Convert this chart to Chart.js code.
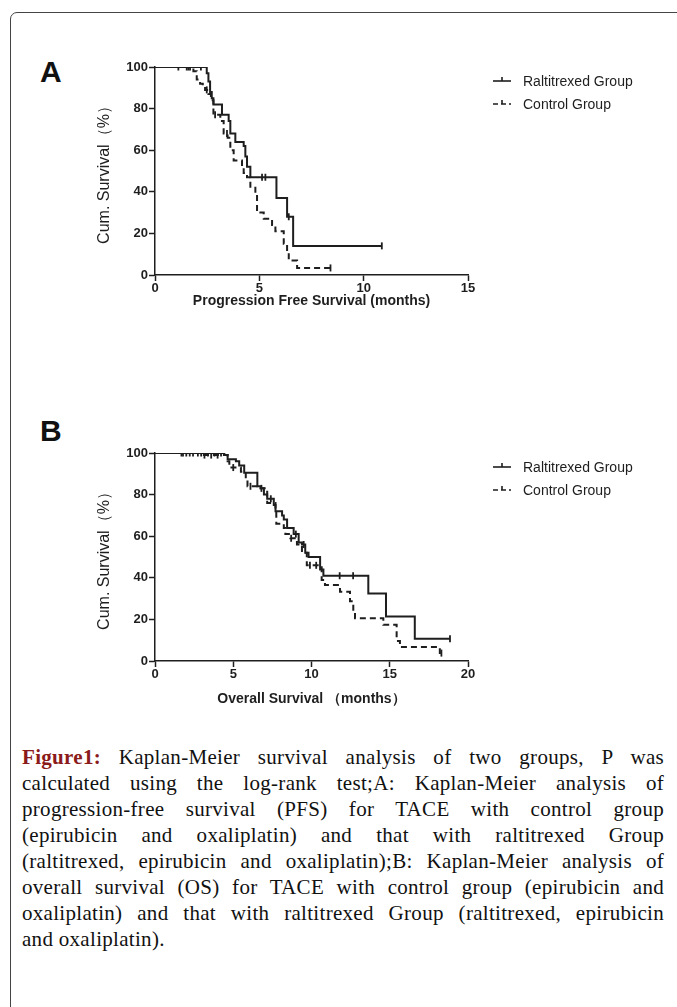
<!DOCTYPE html>
<html lang="en">
<head>
  <meta charset="UTF-8" />
  <title>Kaplan-Meier survival</title>
  <script src="https://cdn.jsdelivr.net/npm/chart.js"></script>
  <style>
    body {
      margin: 0;
      width: 677px;
      height: 1007px;
      position: relative;
      overflow: hidden;
      background: #ffffff;
      font-family: 'Liberation Sans', Arial, sans-serif;
    }

    .frame {
      position: absolute;
      left: 10px;
      top: 12px;
      width: 720px;
      height: 1100px;
      border: 1px solid #444;
      border-top-left-radius: 7px;
    }

    .panel-letter {
      position: absolute;
      left: 40px;
      font-weight: bold;
      font-size: 30px;
      line-height: 30px;
      color: #111;
    }

    canvas {
      position: absolute;
      left: 40px;
    }

    .caption {
      position: absolute;
      left: 22px;
      top: 744px;
      width: 642px;
      font-family: 'Liberation Serif', 'Times New Roman', serif;
      font-size: 21px;
      letter-spacing: 0.3px;
      line-height: 26px;
      color: #111;
    }

    .caption div {
      text-align: justify;
      text-align-last: justify;
      white-space: nowrap;
    }

    .caption div.last {
      text-align-last: left;
    }

    .caption b {
      color: #8b1a1a;
    }
  </style>
</head>
<body>
  <div class="frame"></div>

  <div class="panel-letter" style="top:57px">A</div>
  <canvas id="pfsChart" width="637" height="290" style="top:47px"></canvas>

  <div class="panel-letter" style="top:416px">B</div>
  <canvas id="osChart" width="637" height="290" style="top:433px"></canvas>

  <div class="caption">
    <div><b>Figure1:</b> Kaplan-Meier survival analysis of two groups, P was</div>
    <div>calculated using the log-rank test;A: Kaplan-Meier analysis of</div>
    <div>progression-free survival (PFS) for TACE with control group</div>
    <div>(epirubicin and oxaliplatin) and that with raltitrexed Group</div>
    <div>(raltitrexed, epirubicin and oxaliplatin);B: Kaplan-Meier analysis of</div>
    <div>overall survival (OS) for TACE with control group (epirubicin and</div>
    <div>oxaliplatin) and that with raltitrexed Group (raltitrexed, epirubicin</div>
    <div class="last">and oxaliplatin).</div>
  </div>

  <script>
    // A: progression free survival (months, %)
    const pfsRaltTimes = [0, 2.48, 2.56, 2.64, 2.72, 2.80, 3.21, 3.53, 3.61, 3.85, 4.25, 4.33, 4.41, 4.57, 5.82, 6.33, 6.62, 10.87];
    const pfsRaltSurv  = [100, 97, 93, 88, 85, 82, 77, 74, 68, 64, 62, 57, 52, 47, 37, 28, 14, 14];
    const pfsRaltCensored = [1.12, 1.52, 1.68, 2.2, 5.13, 5.29, 6.41, 10.87];

    const pfsCtrlTimes = [0, 1.84, 2.0, 2.16, 2.29, 2.40, 2.56, 2.68, 2.80, 3.13, 3.29, 3.48, 3.61, 3.77, 4.17, 4.25, 4.41, 4.57, 4.81, 4.89, 5.21, 5.61, 5.77, 6.17, 6.33, 6.41, 6.81, 8.41];
    const pfsCtrlSurv  = [100, 98, 94, 92, 91, 89, 87, 84, 77, 74, 68, 66, 60, 55, 52, 49, 47, 42, 38, 30, 27, 24, 21, 15, 11, 7, 3.4, 3.4];
    const pfsCtrlCensored = [1.6, 2.48, 2.88, 3.45, 8.41];

    // B: overall survival (months, %)
    const osRaltTimes = [0, 4.43, 4.64, 5.17, 5.38, 5.70, 6.54, 6.75, 6.96, 7.17, 7.59, 7.70, 8.12, 8.23, 8.44, 8.86, 9.18, 9.39, 9.60, 9.81, 10.55, 10.76, 13.63, 14.76, 16.60, 18.85];
    const osRaltSurv  = [100, 99, 97, 96, 94, 90.5, 84, 83, 80, 78, 75, 72, 70, 68, 64, 61, 57, 56, 52, 50, 44, 41, 32.5, 21.4, 10.7, 10.7];
    const osRaltCensored = [1.69, 2.0, 2.43, 2.95, 3.38, 3.8, 4.22, 6.8, 7.4, 9.0, 9.5, 11.8, 12.66, 18.85];

    const osCtrlTimes = [0, 3.0, 4.64, 4.75, 5.49, 5.80, 5.91, 6.65, 7.17, 7.70, 7.75, 8.23, 8.33, 8.65, 9.07, 9.39, 9.70, 10.65, 10.86, 11.82, 12.46, 12.67, 12.78, 14.59, 15.44, 15.65, 18.2, 18.3];
    const osCtrlSurv  = [100, 99, 96, 93, 91, 87, 84, 83, 76, 72, 66, 64, 61, 59, 56, 52, 46, 39, 36.5, 33.3, 28.7, 24, 20.6, 17.4, 9.6, 6.7, 3.8, 3.8];
    const osCtrlCensored = [1.79, 2.22, 2.74, 3.16, 3.59, 4.0, 5.0, 6.1, 8.7, 9.9, 10.3, 18.3];

    const yTicks = [0, 20, 40, 60, 80, 100];
    const groupNames = ['Raltitrexed Group', 'Control Group'];

    const ink = '#1e1e1e';

    function toPoints(times, surv) {
      return times.map((t, i) => ({ x: t, y: surv[i] }));
    }

    // survival value of a step curve at time t
    function survAt(times, surv, t) {
      let v = surv[0];
      for (let i = 0; i < times.length; i++) {
        if (times[i] <= t) v = surv[i];
      }
      return v;
    }

    function censorPoints(times, surv, cens) {
      return cens.map(t => ({ x: t, y: survAt(times, surv, t) }));
    }

    // legend drawn to the right of the plot, GraphPad style
    const kmLegend = {
      id: 'kmLegend',
      afterDraw(chart) {
        const ctx = chart.ctx;
        const area = chart.chartArea;
        const x0 = area.right + 25;
        let y = area.top + 14;
        ctx.save();
        chart.data.datasets.filter(d => d.isCurve).forEach(d => {
          ctx.strokeStyle = d.borderColor;
          ctx.lineWidth = 1.6;
          ctx.setLineDash(d.borderDash.length ? [5, 3] : []);
          ctx.beginPath();
          ctx.moveTo(x0, y);
          ctx.lineTo(x0 + 18, y);
          ctx.stroke();
          ctx.setLineDash([]);
          ctx.beginPath();
          ctx.moveTo(x0 + 9, y - 4);
          ctx.lineTo(x0 + 9, y);
          ctx.stroke();
          ctx.fillStyle = ink;
          ctx.font = "14px 'Liberation Sans', Arial, sans-serif";
          ctx.textBaseline = 'middle';
          ctx.fillText(d.label, x0 + 30, y + 1);
          y += 23;
        });
        ctx.restore();
      }
    };

    function makeKM(id, xMax, xTitle, xScaleHeight, ralt, ctrl) {
      const curve = (label, pts, dash) => ({
        type: 'line',
        label: label,
        isCurve: true,
        data: pts,
        stepped: 'before',
        borderColor: ink,
        borderWidth: 2,
        borderDash: dash,
        pointRadius: 0,
        fill: false
      });
      const ticks = (pts) => ({
        type: 'scatter',
        label: 'censored',
        data: pts,
        pointStyle: 'line',
        rotation: 90,
        radius: 3.5,
        borderColor: ink,
        borderWidth: 1.8,
        backgroundColor: ink
      });

      return new Chart(document.getElementById(id), {
        data: {
          datasets: [
            curve(groupNames[0], toPoints(ralt.times, ralt.surv), []),
            curve(groupNames[1], toPoints(ctrl.times, ctrl.surv), [6, 4]),
            ticks(censorPoints(ralt.times, ralt.surv, ralt.cens)),
            ticks(censorPoints(ctrl.times, ctrl.surv, ctrl.cens))
          ]
        },
        options: {
          responsive: false,
          animation: false,
          layout: { padding: { top: 20, left: 55, right: 209, bottom: 62 - xScaleHeight } },
          plugins: { legend: { display: false }, tooltip: { enabled: false } },
          scales: {
            x: {
              type: 'linear',
              min: 0,
              max: xMax,
              afterFit(s) { s.height = xScaleHeight; },
              ticks: { stepSize: 5, color: ink, padding: 0, font: { family: "'Liberation Sans', Arial", weight: 'bold', size: 13 } },
              grid: { drawOnChartArea: false, tickLength: 6, tickColor: ink, tickWidth: 1.5 },
              border: { color: ink, width: 1.5 },
              title: { display: true, text: xTitle, color: ink, padding: 0, font: { family: "'Liberation Sans', Arial", weight: 'bold', size: 14 } }
            },
            y: {
              min: 0,
              max: 100,
              afterFit(s) { s.width = 60; },
              afterBuildTicks(s) { s.ticks = yTicks.map(v => ({ value: v })); },
              ticks: { color: ink, padding: 1, font: { family: "'Liberation Sans', Arial", weight: 'bold', size: 13 } },
              grid: { drawOnChartArea: false, tickLength: 6, tickColor: ink, tickWidth: 1.5 },
              border: { color: ink, width: 1.5 },
              title: { display: true, text: 'Cum. Survival（%）', color: ink, padding: 0, font: { family: "'Liberation Sans', Arial", size: 16 } }
            }
          }
        },
        plugins: [kmLegend]
      });
    }

    makeKM('pfsChart', 15, 'Progression Free Survival (months)', 35,
      { times: pfsRaltTimes, surv: pfsRaltSurv, cens: pfsRaltCensored },
      { times: pfsCtrlTimes, surv: pfsCtrlSurv, cens: pfsCtrlCensored });

    makeKM('osChart', 20, 'Overall Survival （months）', 47,
      { times: osRaltTimes, surv: osRaltSurv, cens: osRaltCensored },
      { times: osCtrlTimes, surv: osCtrlSurv, cens: osCtrlCensored });
  </script>
</body>
</html>
